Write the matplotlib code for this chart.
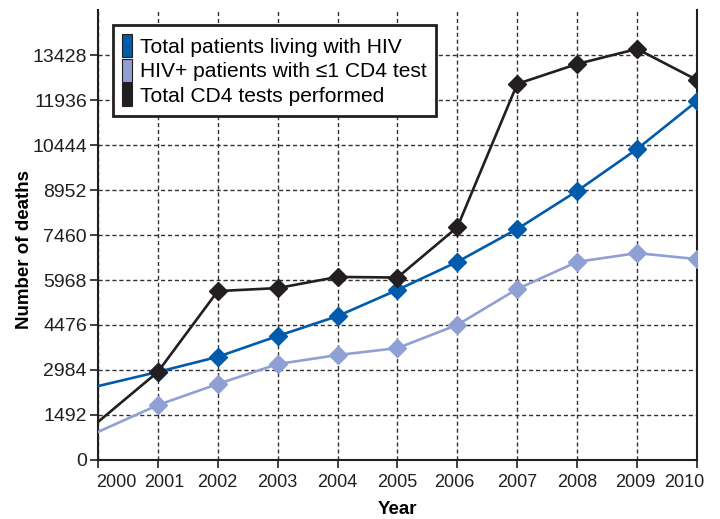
import matplotlib
matplotlib.use('Agg')
import matplotlib.pyplot as plt
import matplotlib.transforms as mtransforms
from matplotlib.patches import Patch

plt.rcParams['font.family'] = ['Liberation Sans', 'DejaVu Sans']

years = [2000, 2001, 2002, 2003, 2004, 2005, 2006, 2007, 2008, 2009, 2010]
ytick_vals = [0, 1492, 2984, 4476, 5968, 7460, 8952, 10444, 11936, 13428]

total_patients = [2450, 2920, 3420, 4110, 4770, 5640, 6570, 7660, 8920, 10310, 11900]
le1_cd4 = [930, 1820, 2520, 3180, 3480, 3710, 4480, 5670, 6570, 6860, 6660]
total_tests = [1260, 2920, 5600, 5700, 6070, 6050, 7720, 12470, 13130, 13630, 12600]

labels = ['Total patients living with HIV',
          'HIV+ patients with \u22641 CD4 test',
          'Total CD4 tests performed']
colors = ['#005BAC', '#8FA0D4', '#231F20']

fig = plt.figure(figsize=(7.2, 5.19), dpi=100)
ax = fig.add_axes([0.136, 0.1137, 0.832, 0.867])

series = [total_patients, le1_cd4, total_tests]
zorders = [4, 3, 5]
for vals, c, z in zip(series, colors, zorders):
    ax.plot(years, vals, '-', color=c, linewidth=1.9, zorder=z)
    ax.plot(years[1:], vals[1:], 'D', color=c, markersize=9,
            markeredgecolor=c, zorder=z)

ax.set_xlim(2000, 2010)
ax.set_ylim(0, 14920)
ax.set_xticks(years)
ax.set_xticklabels([str(y) for y in years])
ax.set_yticks(ytick_vals)
ax.set_yticklabels([str(v) for v in ytick_vals])
ax.tick_params(axis='both', colors='#231F20', length=6, width=1.2, direction='out')
ax.tick_params(axis='x', labelsize=13, pad=4)
ax.tick_params(axis='y', labelsize=14, pad=2)

# nudge crowded year labels like the original layout
shifts = {0: -2, 1: 6, 6: -3, 9: -2, 10: 7}
for i, t in enumerate(ax.get_xticklabels()):
    if i == 0:
        t.set_ha('left')
    elif i == len(years) - 1:
        t.set_ha('right')
    if i in shifts:
        off = mtransforms.ScaledTranslation(shifts[i] / 100, 0, fig.dpi_scale_trans)
        t.set_transform(t.get_transform() + off)

ax.grid(True, color='#333333', linestyle=(0, (3, 2)), linewidth=1.0)
ax.set_axisbelow(True)
ax.spines['top'].set_visible(False)
for s in ['left', 'right', 'bottom']:
    ax.spines[s].set_linewidth(1.5)
    ax.spines[s].set_color('#231F20')

ax.set_xlabel('Year', fontsize=13.5, fontweight='bold')
ax.set_ylabel('Number of deaths', fontsize=13.5, fontweight='bold')
ax.xaxis.set_label_coords(0.5, -0.092)
ax.yaxis.set_label_coords(-0.109, 0.467)

handles = [Patch(facecolor=c, edgecolor='#231F20', linewidth=0.8) for c in colors]
leg = ax.legend(handles, labels, loc='upper left', bbox_to_anchor=(0.025, 0.967),
                borderaxespad=0, fontsize=15.1, handlelength=0.47, handleheight=1.3,
                handletextpad=0.35, labelspacing=0.08, borderpad=0.45,
                fancybox=False, framealpha=1)
leg.get_frame().set_edgecolor('#231F20')
leg.get_frame().set_linewidth(2)

fig.savefig('out.png', dpi=100)
